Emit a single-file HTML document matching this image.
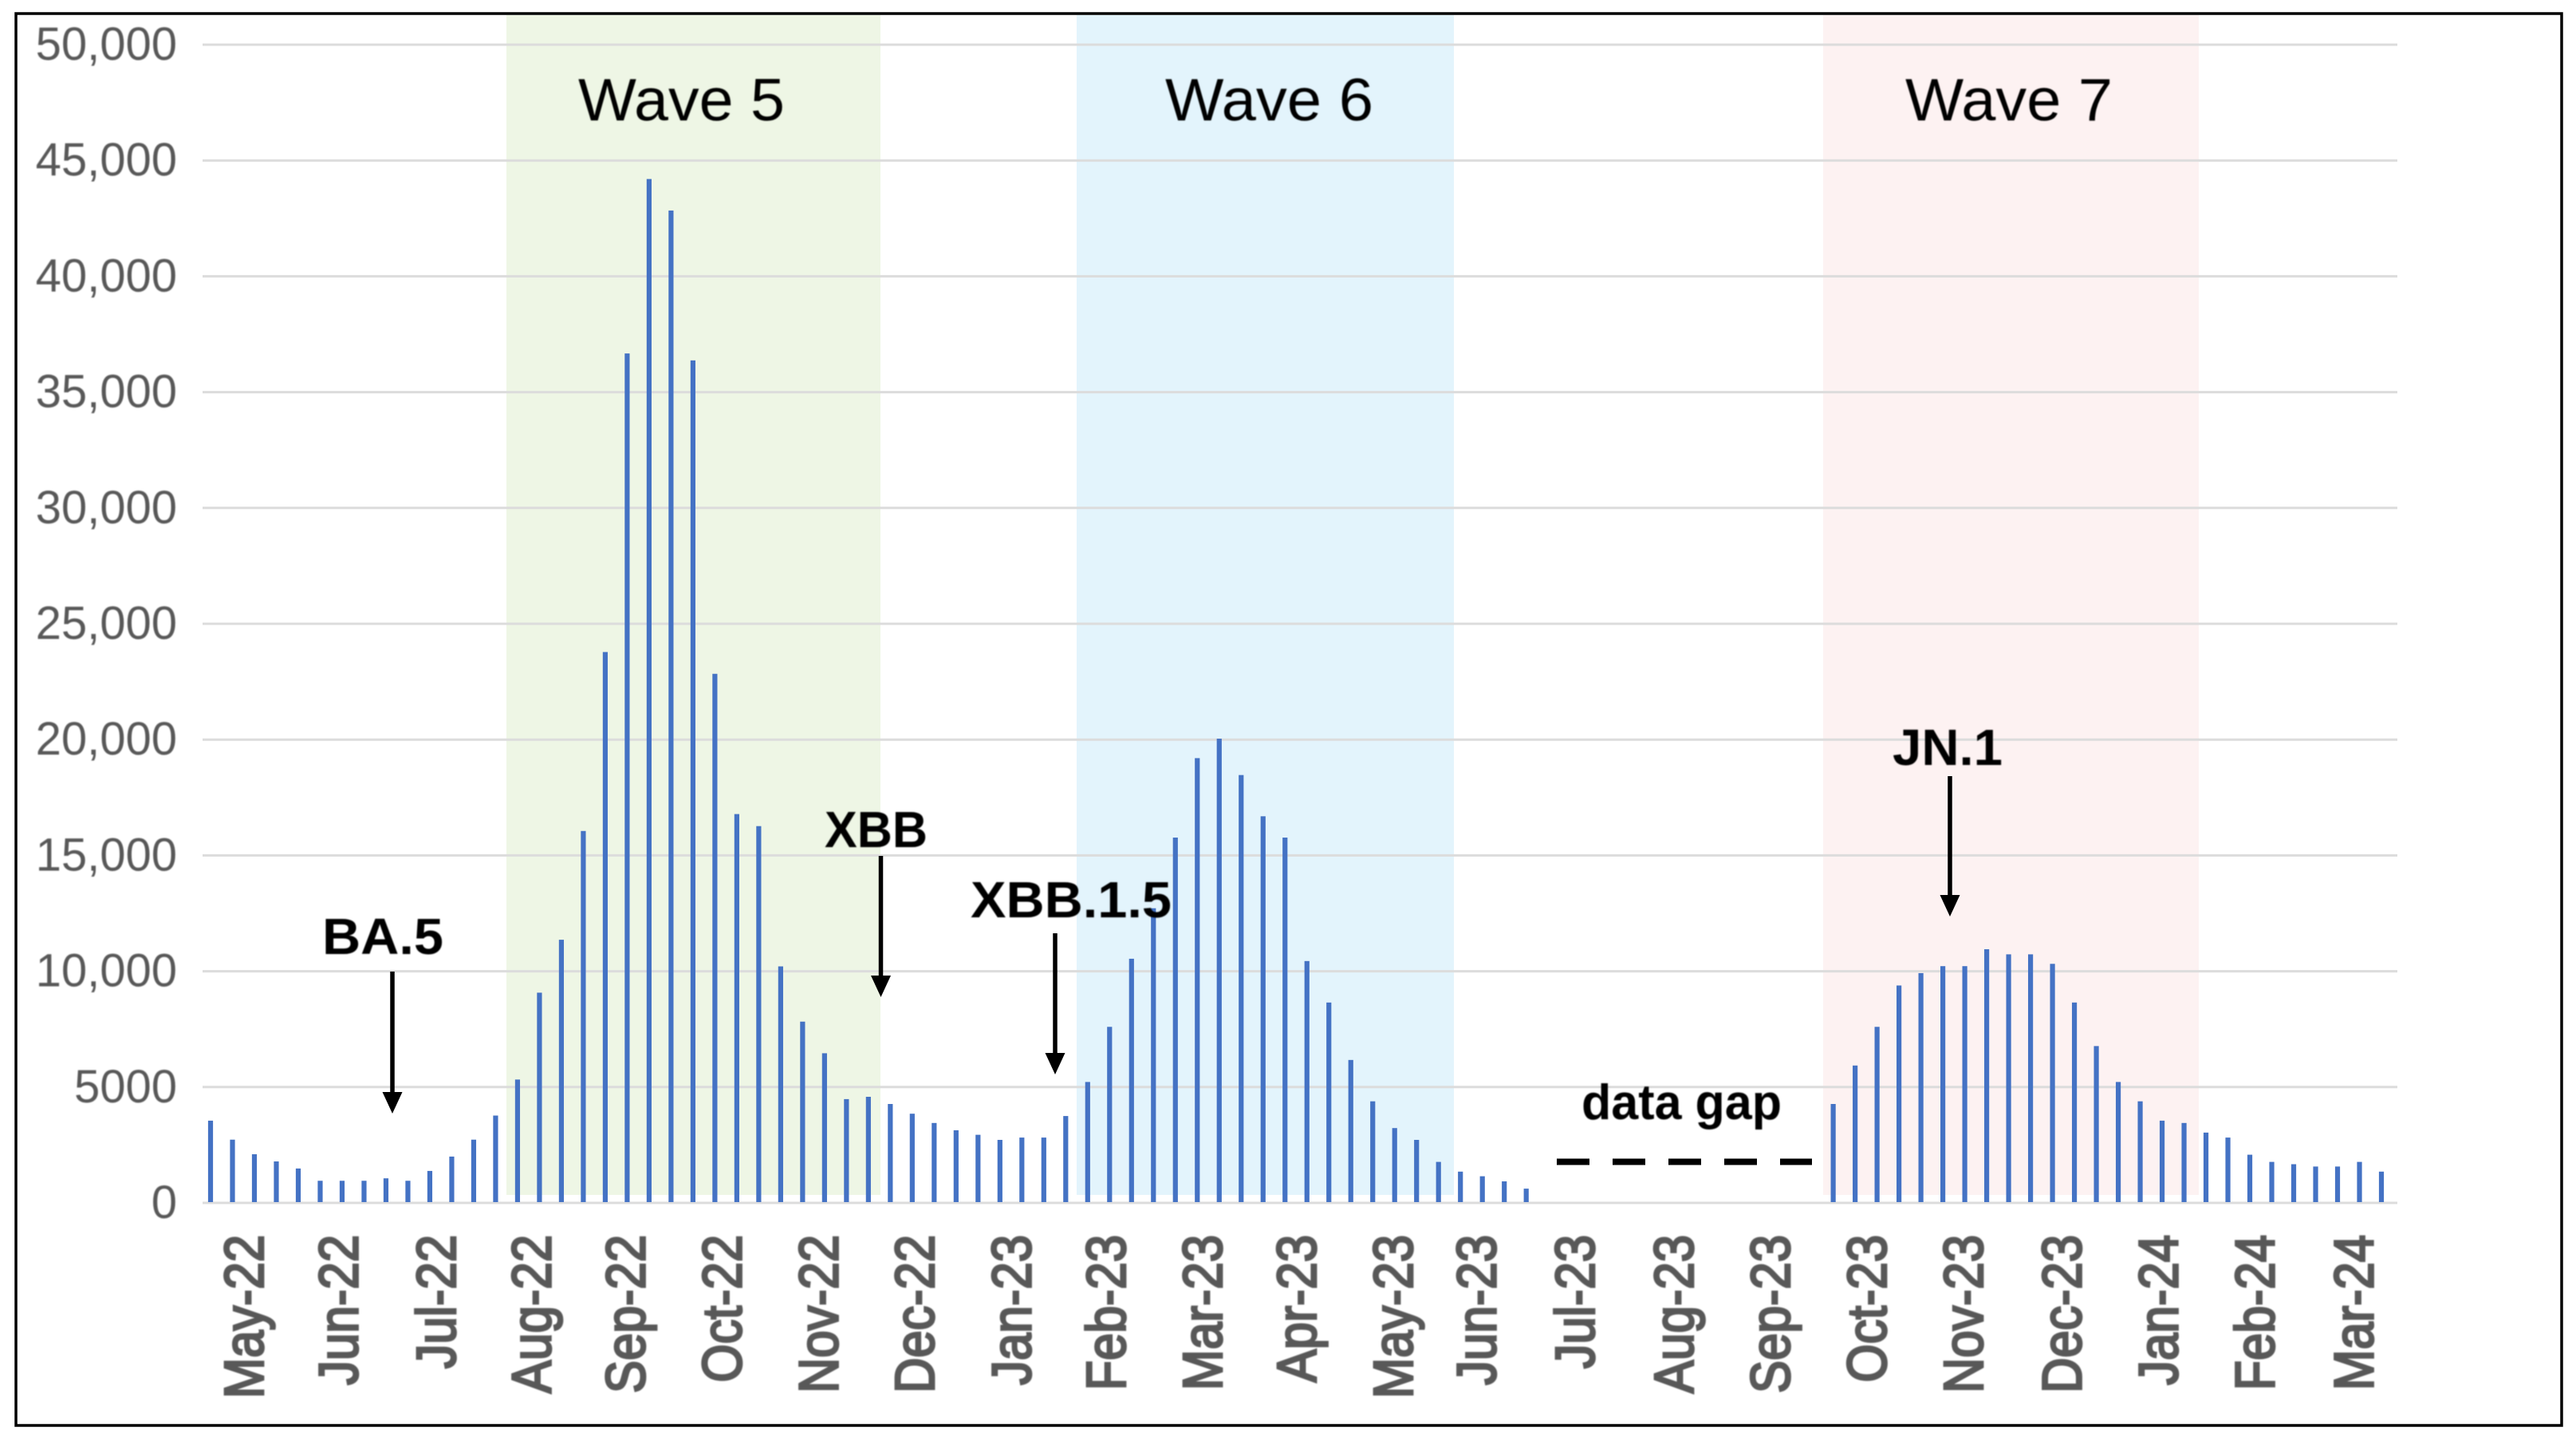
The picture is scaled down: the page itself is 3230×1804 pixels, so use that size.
<!DOCTYPE html>
<html lang="en">
<head>
<meta charset="utf-8">
<title>Weekly counts by month with COVID waves</title>
<style>
  html, body { margin: 0; padding: 0; background: #fff; }
  svg { display: block; font-family: "Liberation Sans", sans-serif; }
</style>
</head>
<body>
<svg id="chart" xmlns="http://www.w3.org/2000/svg" width="3230" height="1804" viewBox="0 0 3230 1804">
  <defs>
    <filter id="soft" x="-5%" y="-5%" width="110%" height="110%">
      <feGaussianBlur stdDeviation="0.9"/>
    </filter>
  </defs>
  <rect x="0" y="0" width="3230" height="1804" fill="#ffffff"/>
  <rect x="635" y="19" width="469" height="1479" fill="#eef6e5"/>
  <rect x="1350" y="19" width="473" height="1479" fill="#e3f4fc"/>
  <rect x="2286" y="19" width="471" height="1479" fill="#fdf2f2"/>
  <g id="grid"></g>
  <g id="y-labels" filter="url(#soft)"></g>
  <g id="bars"></g>
  <g id="x-labels" filter="url(#soft)"></g>

  <g filter="url(#soft)">
    <text x="725" y="151" font-size="75" textLength="259" lengthAdjust="spacingAndGlyphs" fill="#000">Wave 5</text>
    <text x="1461" y="151" font-size="75" textLength="261" lengthAdjust="spacingAndGlyphs" fill="#000">Wave 6</text>
    <text x="2389" y="151" font-size="75" textLength="260" lengthAdjust="spacingAndGlyphs" fill="#000">Wave 7</text>
  </g>

  <g>
    <text x="404" y="1196" font-size="64" font-weight="bold" textLength="152" lengthAdjust="spacingAndGlyphs" fill="#000" filter="url(#soft)">BA.5</text>
    <line x1="492" y1="1218" x2="492" y2="1375" stroke="#000" stroke-width="5.5"/>
    <polygon points="479.5,1369 504.5,1369 492,1396" fill="#000"/>
  </g>
  <g>
    <text x="1034" y="1062" font-size="64" font-weight="bold" textLength="129" lengthAdjust="spacingAndGlyphs" fill="#000" filter="url(#soft)">XBB</text>
    <line x1="1104.5" y1="1073" x2="1104.5" y2="1230" stroke="#000" stroke-width="5.5"/>
    <polygon points="1092,1223 1117,1223 1104.5,1250" fill="#000"/>
  </g>
  <g>
    <text x="1217" y="1150" font-size="64" font-weight="bold" textLength="252" lengthAdjust="spacingAndGlyphs" fill="#000" filter="url(#soft)">XBB.1.5</text>
    <line x1="1323" y1="1170" x2="1323" y2="1327" stroke="#000" stroke-width="5.5"/>
    <polygon points="1310.5,1320 1335.5,1320 1323,1347" fill="#000"/>
  </g>
  <g>
    <text x="2373" y="959" font-size="64" font-weight="bold" textLength="138" lengthAdjust="spacingAndGlyphs" fill="#000" filter="url(#soft)">JN.1</text>
    <line x1="2445" y1="973" x2="2445" y2="1130" stroke="#000" stroke-width="5.5"/>
    <polygon points="2432.5,1122 2457.5,1122 2445,1149" fill="#000"/>
  </g>

  <text x="1983" y="1403" font-size="62" font-weight="bold" textLength="251" lengthAdjust="spacingAndGlyphs" fill="#000" filter="url(#soft)">data gap</text>
  <line x1="1952" y1="1456.5" x2="2272" y2="1456.5" stroke="#000" stroke-width="8" stroke-dasharray="41 29"/>

  <rect x="20" y="17" width="3192" height="1770" fill="none" stroke="#000" stroke-width="3.5"/>
</svg>
<script>
// Y axis
const yTicks = [0, 5000, 10000, 15000, 20000, 25000, 30000, 35000, 40000, 45000, 50000];
const yTickLabels = ["0", "5000", "10,000", "15,000", "20,000", "25,000", "30,000", "35,000", "40,000", "45,000", "50,000"];

// X axis: month labels and where they sit, in week-index units
const monthLabels = ["May-22", "Jun-22", "Jul-22", "Aug-22", "Sep-22", "Oct-22", "Nov-22", "Dec-22", "Jan-23", "Feb-23", "Mar-23", "Apr-23", "May-23", "Jun-23", "Jul-23", "Aug-23", "Sep-23", "Oct-23", "Nov-23", "Dec-23", "Jan-24", "Feb-24", "Mar-24"];
const monthLabelWeeks = [1.49, 5.8, 10.25, 14.6, 18.9, 23.3, 27.7, 32.07, 36.5, 40.8, 45.2, 49.5, 53.9, 57.7, 62.2, 66.7, 71.1, 75.5, 79.9, 84.4, 88.8, 93.2, 97.7];

// Weekly values; null marks the weeks inside the data gap
const weeklyValues = [
  3550, 2730, 2100, 1790, 1485, 955, 955, 955, 1060, 955,
  1380, 2000, 2730, 3770, 5325, 9075, 11360, 16055, 23780, 36670,
  44200, 42840, 36370, 22840, 16785, 16265, 10210, 7825, 6460, 4480,
  4580, 4270, 3850, 3450, 3135, 2940, 2720, 2820, 2820, 3750,
  5220, 7600, 10540, 12720, 15770, 19200, 20040, 18470, 16690, 15770,
  10440, 8650, 6170, 4385, 3230, 2720, 1770, 1350, 1150, 930,
  615, null, null, null, null, null, null, null, null, null,
  null, null, null, null, 4270, 5930, 7600, 9385, 9920, 10220,
  10220, 10950, 10730, 10730, 10320, 8650, 6770, 5220, 4385, 3550,
  3450, 3035, 2820, 2080, 1770, 1670, 1570, 1570, 1770, 1350
];

const SVG_NS = "http://www.w3.org/2000/svg";
const plot = { left: 254, right: 3006, bottom: 1508, top: 56, firstBar: 264, step: 27.495, barWidth: 6.2 };
const yMax = 50000;

function yScale(v) {
  return plot.bottom - (v / yMax) * (plot.bottom - plot.top);
}
function xScale(week) {
  return plot.firstBar + week * plot.step;
}

const gridLayer = document.getElementById("grid");
const yLabelLayer = document.getElementById("y-labels");
yTicks.forEach(function (tick, i) {
  const line = document.createElementNS(SVG_NS, "line");
  
  
  line.setAttribute("x1", plot.left);
  line.setAttribute("x2", plot.right);
  line.setAttribute("y1", yScale(tick));
  line.setAttribute("y2", yScale(tick));
  line.setAttribute("stroke", "#dcdcdc");
  line.setAttribute("stroke-width", "3");
  gridLayer.appendChild(line);

  const label = document.createElementNS(SVG_NS, "text");
  
  
  label.setAttribute("x", 222);
  label.setAttribute("y", yScale(tick) + 19);
  label.setAttribute("font-size", "58");
  label.setAttribute("text-anchor", "end");
  label.setAttribute("fill", "#595959");
  label.textContent = yTickLabels[i];
  yLabelLayer.appendChild(label);
});

const barLayer = document.getElementById("bars");
weeklyValues.forEach(function (value, week) {
  if (value === null) return;
  const bar = document.createElementNS(SVG_NS, "rect");
  
  
  bar.setAttribute("x", xScale(week) - plot.barWidth / 2);
  bar.setAttribute("y", yScale(value));
  bar.setAttribute("width", plot.barWidth);
  bar.setAttribute("height", yScale(0) - yScale(value) - 1);
  bar.setAttribute("fill", "#4472c4");
  barLayer.appendChild(bar);
});

const xLabelLayer = document.getElementById("x-labels");
monthLabels.forEach(function (month, i) {
  const label = document.createElementNS(SVG_NS, "text");
  
  
  label.setAttribute("transform", "translate(" + (xScale(monthLabelWeeks[i]) + 25) + ",1548) rotate(-90) scale(0.88,1)");
  label.setAttribute("font-size", "70");
  label.setAttribute("text-anchor", "end");
  label.setAttribute("fill", "#595959");
  label.setAttribute("stroke", "#595959");
  label.setAttribute("stroke-width", "2.8");
  label.textContent = month;
  xLabelLayer.appendChild(label);
});
</script>
</body>
</html>
